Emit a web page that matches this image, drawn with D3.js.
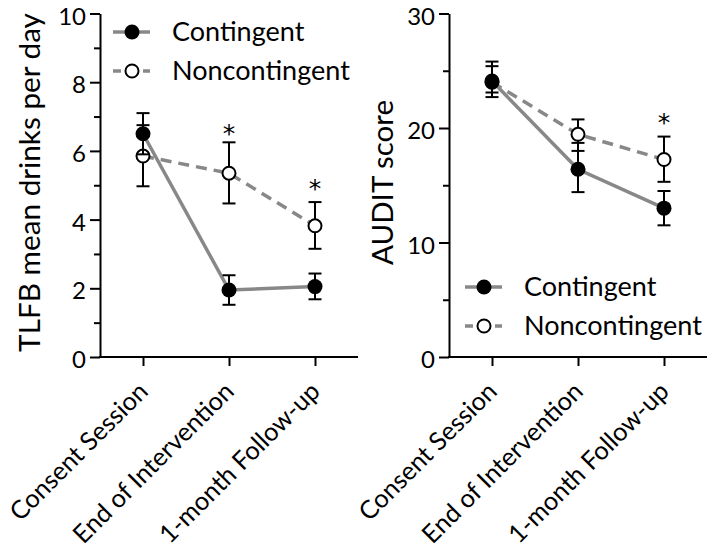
<!DOCTYPE html>
<html><head><meta charset="utf-8">
<script src="https://cdn.jsdelivr.net/npm/d3@7"></script>
<style>
body{margin:0;background:#fff}
svg{display:block;background:#fff}
text{font-family:Lato,'Open Sans',sans-serif;fill:#000}
</style>
</head><body>
<svg id="c" width="709" height="559"></svg>
<script>
// ---------- data ----------
const categories = ["Consent Session", "End of Intervention", "1-month Follow-up"];
const seriesNames = ["Contingent", "Noncontingent"];

const tlfbContingent   = [6.5, 1.95, 2.05];
const tlfbContingentLo = [5.9, 1.52, 1.68];
const tlfbContingentHi = [7.1, 2.38, 2.43];
const tlfbNon          = [5.85, 5.35, 3.82];
const tlfbNonLo        = [4.97, 4.47, 3.15];
const tlfbNonHi        = [6.75, 6.25, 4.51];
const tlfbStars        = [null, 6.65, 5.05];
const tlfbMajorTicks   = [0, 2, 4, 6, 8, 10];
const tlfbMinorTicks   = [1, 3, 5, 7, 9];

const auditContingent   = [24.1, 16.4, 13.0];
const auditContingentLo = [22.7, 14.4, 11.5];
const auditContingentHi = [25.8, 18.7, 14.5];
const auditNon          = [24.0, 19.45, 17.25];
const auditNonLo        = [23.1, 18.0, 15.3];
const auditNonHi        = [25.4, 20.75, 19.25];
const auditStars        = [null, null, 20.9];
const auditMajorTicks   = [0, 10, 20, 30];
const auditMinorTicks   = [5, 15, 25];

// ---------- drawing ----------
const svg = d3.select("#c");
const FONT = "Lato, 'Open Sans', sans-serif";
const GRAY = "#888888";
const Y0 = 357, Y1 = 13.5;

function fit(sel, target, start) {
  sel.style("font-size", start + "px");
  const L = sel.node().getComputedTextLength();
  const fs = start * target / L;
  sel.style("font-size", fs + "px");
  return fs;
}

function drawPanel(cfg) {
  const x = d3.scalePoint().domain(categories).range(cfg.xRange).padding(0.5);
  const y = d3.scaleLinear().domain(cfg.yDomain).range([Y0, Y1]);
  const g = svg.append("g");

  // minor y ticks
  const minor = g.append("g").attr("transform", `translate(${cfg.xRange[0]},0)`)
    .call(d3.axisLeft(y).tickValues(cfg.minor).tickSize(6).tickSizeOuter(0).tickFormat(""));
  minor.select(".domain").remove();
  minor.selectAll("line").attr("stroke", "#000").attr("stroke-width", 2);

  // major y axis
  const ya = g.append("g").attr("transform", `translate(${cfg.xRange[0]},0)`)
    .call(d3.axisLeft(y).tickValues(cfg.major).tickSize(10).tickSizeOuter(0).tickPadding(4).tickFormat(d3.format("d")));
  ya.attr("font-family", FONT).attr("font-size", 24);
  ya.select(".domain").attr("stroke", "#000").attr("stroke-width", 2);
  ya.selectAll("line").attr("stroke", "#000").attr("stroke-width", 2);
  ya.selectAll("text").attr("fill", "#000").attr("dy", "0.44em");

  // x axis
  const xa = g.append("g").attr("transform", `translate(0,${Y0})`)
    .call(d3.axisBottom(x).tickSize(9).tickSizeOuter(0));
  xa.attr("font-family", FONT);
  xa.select(".domain").attr("stroke", "#000").attr("stroke-width", 2)
    .attr("d", `M${cfg.xRange[0] - 1},0H${cfg.xRange[1]}`);
  xa.selectAll("line").attr("stroke", "#000").attr("stroke-width", 2);
  const xt = xa.selectAll("text")
    .attr("x", 0).attr("y", 0).attr("dy", 0)
    .attr("transform", "translate(6,36) rotate(-45)")
    .style("text-anchor", "end").attr("fill", "#000");
  const xfs = fit(xa.selectAll("text").filter(d => d === categories[1]), 215, 24);
  xt.style("font-size", xfs + "px");

  // y title
  const t = g.append("text")
    .attr("transform", `translate(${cfg.titleX},182.5) rotate(-90)`)
    .attr("text-anchor", "middle")
    .text(cfg.title);
  fit(t, cfg.titleLen, 24);

  const idx = d3.range(categories.length);
  const line = vals => d3.line().x(i => x(categories[i])).y(i => y(vals[i]))(idx);

  // connecting lines
  g.append("path").attr("d", line(cfg.non)).attr("fill", "none")
    .attr("stroke", GRAY).attr("stroke-width", 3.5).attr("stroke-dasharray", "11,7");
  g.append("path").attr("d", line(cfg.con)).attr("fill", "none")
    .attr("stroke", GRAY).attr("stroke-width", 3.5);

  function errorBars(mean, lo, hi) {
    const eb = g.append("g").attr("stroke", "#000").attr("stroke-width", 2);
    idx.forEach(i => {
      const cx = x(categories[i]);
      eb.append("line").attr("x1", cx).attr("x2", cx).attr("y1", y(lo[i])).attr("y2", y(hi[i]));
      [lo[i], hi[i]].forEach(v => {
        eb.append("line").attr("x1", cx - 6.5).attr("x2", cx + 6.5).attr("y1", y(v)).attr("y2", y(v));
      });
    });
  }

  errorBars(cfg.non, cfg.nonLo, cfg.nonHi);
  g.append("g").selectAll("circle").data(idx).join("circle")
    .attr("cx", i => x(categories[i])).attr("cy", i => y(cfg.non[i])).attr("r", 6.5)
    .attr("fill", "#fff").attr("stroke", "#000").attr("stroke-width", 2);

  errorBars(cfg.con, cfg.conLo, cfg.conHi);
  g.append("g").selectAll("circle").data(idx).join("circle")
    .attr("cx", i => x(categories[i])).attr("cy", i => y(cfg.con[i])).attr("r", 7.5)
    .attr("fill", "#000");

  // asterisks
  g.append("g").selectAll("text").data(idx.filter(i => cfg.stars[i] != null)).join("text")
    .attr("x", i => x(categories[i])).attr("y", i => y(cfg.stars[i]) + 13)
    .attr("text-anchor", "middle")
    .style("font-family", "'DejaVu Sans', sans-serif").style("font-size", "25px").text("*");

  // legend
  const lg = g.append("g");
  const lx = cfg.legend.x, rows = cfg.legend.rows;
  lg.append("line").attr("x1", lx).attr("x2", lx + 37).attr("y1", rows[0]).attr("y2", rows[0])
    .attr("stroke", GRAY).attr("stroke-width", 3.5);
  lg.append("circle").attr("cx", lx + 19).attr("cy", rows[0]).attr("r", 7.5).attr("fill", "#000");
  lg.append("line").attr("x1", lx).attr("x2", lx + 37).attr("y1", rows[1]).attr("y2", rows[1])
    .attr("stroke", GRAY).attr("stroke-width", 3.5).attr("stroke-dasharray", "8,22,7");
  lg.append("circle").attr("cx", lx + 19).attr("cy", rows[1]).attr("r", 6.5)
    .attr("fill", "#fff").attr("stroke", "#000").attr("stroke-width", 2);
  const lt = lg.selectAll("text.lab").data(seriesNames).join("text").attr("class", "lab")
    .attr("x", lx + 59).attr("y", (d, i) => rows[i] + 8.5).text(d => d);
  const lfs = fit(lt.filter(d => d === "Noncontingent"), 178, 24);
  lt.style("font-size", lfs + "px");
}

drawPanel({
  xRange: [100, 358], yDomain: [0, 10], major: tlfbMajorTicks, minor: tlfbMinorTicks,
  title: "TLFB mean drinks per day", titleX: 40, titleLen: 339,
  con: tlfbContingent, conLo: tlfbContingentLo, conHi: tlfbContingentHi,
  non: tlfbNon, nonLo: tlfbNonLo, nonHi: tlfbNonHi, stars: tlfbStars,
  legend: { x: 113, rows: [32, 71] }
});
drawPanel({
  xRange: [449, 707], yDomain: [0, 30], major: auditMajorTicks, minor: auditMinorTicks,
  title: "AUDIT score", titleX: 393, titleLen: 165,
  con: auditContingent, conLo: auditContingentLo, conHi: auditContingentHi,
  non: auditNon, nonLo: auditNonLo, nonHi: auditNonHi, stars: auditStars,
  legend: { x: 465, rows: [287, 326] }
});
</script>
</body></html>
